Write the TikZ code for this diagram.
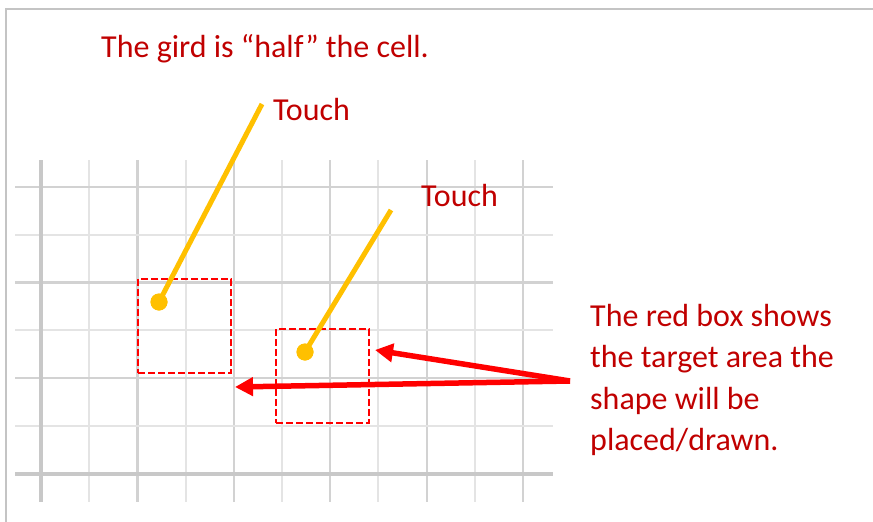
\documentclass[tikz,border=0pt]{standalone}
\usepackage{fontspec}
\setmainfont{Carlito}
\usetikzlibrary{arrows.meta}
\definecolor{txtred}{HTML}{C00000}
\definecolor{touchyellow}{HTML}{FFC000}
\definecolor{gthick}{HTML}{C8C8C8}
\definecolor{gmid}{HTML}{D2D2D2}
\definecolor{glight}{HTML}{E4E4E4}
\definecolor{frame}{HTML}{C4C4C4}
\definecolor{boxred}{HTML}{FF0000}
\begin{document}
\begin{tikzpicture}[x=1pt,y=-1pt,
  gridthick/.style={draw=gthick,line width=4pt},
  gridmid/.style={draw=gmid,line width=2.2pt},
  gridlight/.style={draw=glight,line width=2pt},
  label/.style={text=txtred,font=\fontsize{32}{41.5}\selectfont,inner sep=0pt},
  target/.style={draw=boxred,line width=2.6pt,dash pattern=on 7pt off 3pt,minimum width=93pt,minimum height=94pt,inner sep=0pt},
  touchdot/.style={circle,fill=touchyellow,minimum size=17pt,inner sep=0pt},
  touchline/.style={draw=touchyellow,line width=5pt},
  pointer/.style={draw=boxred,line width=5.5pt,-{Triangle[length=18pt,width=18pt]}}]
\useasboundingbox (0,0) rectangle (873,522);
% frame
\draw[frame,line width=2pt] (6,522) -- (6,9) -- (873,9);
% grid
\foreach \i in {1,...,10}{
  \pgfmathtruncatemacro{\gpar}{mod(\i,2)}
  \ifnum\gpar=0
    \draw[gridmid] ({41+48.2*\i},160) -- ({41+48.2*\i},502);
  \else
    \draw[gridlight] ({41+48.2*\i},160) -- ({41+48.2*\i},502);
  \fi
}
\foreach \j in {0,...,5}{
  \pgfmathtruncatemacro{\gpar}{mod(\j,2)}
  \ifnum\gpar=0
    \draw[gridmid] (15,{186.7+47.9*\j}) -- (553,{186.7+47.9*\j});
  \else
    \draw[gridlight] (15,{186.7+47.9*\j}) -- (553,{186.7+47.9*\j});
  \fi
}
\draw[gridthick] (41,160) -- (41,502);
\draw[gridthick] (15,474.1) -- (553,474.1);
% target boxes
\node[target] (box1) at (184.5,326) {};
\node[target] (box2) at (322.5,376) {};
% touches
\node[touchdot] (d1) at (159,302) {};
\node[touchdot] (d2) at (305,352) {};
\coordinate (t1) at (262,104);
\coordinate (t2) at (391,210);
\draw[touchline] (d1.center) -- (t1);
\draw[touchline] (d2.center) -- (t2);
\node[touchdot] at (d1) {};
\node[touchdot] at (d2) {};
% labels
\node[label,anchor=base west] (title) at (101,57) {The gird is “half” the cell.};
\node[label,anchor=base west] (touch1) at (273,120) {Touch};
\node[label,anchor=base west] (touch2) at (421,206) {Touch};
\node[label,anchor=north west,align=left] (note) at (590,304) {The red box shows\\the target area the\\shape will be\\placed/drawn.};
% arrows
\coordinate (src) at (570,381);
\coordinate (a1) at (375,350);
\coordinate (a2) at (235,387);
\draw[pointer] (src) -- (a1);
\draw[pointer] (src) -- (a2);
\end{tikzpicture}
\end{document}
